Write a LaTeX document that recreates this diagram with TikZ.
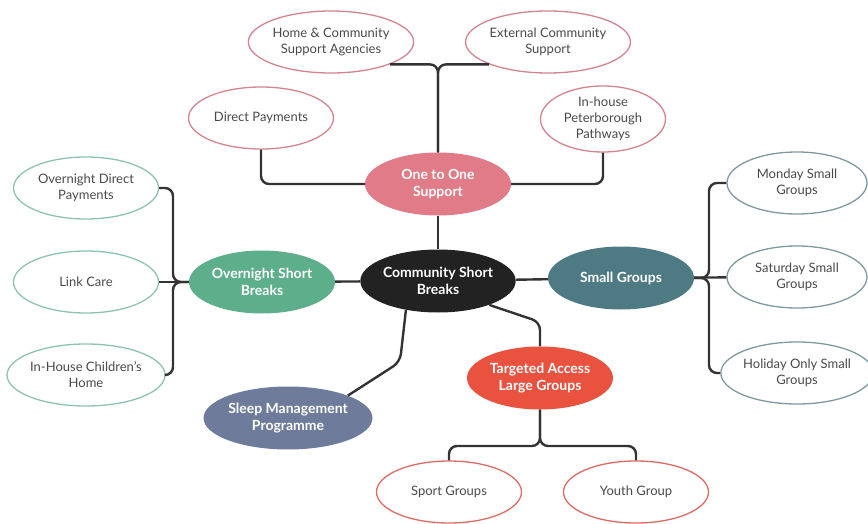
\documentclass[tikz,border=0pt]{standalone}
\usepackage{fontspec}
\setmainfont{Lato}
\usepackage{tikz}
\usetikzlibrary{shapes.geometric,positioning}

\definecolor{pinkhub}{HTML}{E07B87}
\definecolor{pinkleaf}{HTML}{D4848E}
\definecolor{greenhub}{HTML}{5DAE8B}
\definecolor{greenleaf}{HTML}{8CC3B0}
\definecolor{slatehub}{HTML}{4E7A83}
\definecolor{slateleaf}{HTML}{7E9AA0}
\definecolor{redhub}{HTML}{E9523F}
\definecolor{redleaf}{HTML}{E06A62}
\definecolor{sleephub}{HTML}{6E7B9B}
\definecolor{corehub}{HTML}{222222}
\definecolor{linegrey}{HTML}{333333}
\definecolor{leaftext}{HTML}{4A4A4A}

\tikzset{
    hub/.style={ellipse, minimum width=146pt, minimum height=63pt, inner sep=0pt,
        align=center, text=white, font=\bfseries\fontsize{14}{17}\selectfont},
    leaf/.style={ellipse, draw=#1, line width=1.3pt, fill=white, minimum width=145pt,
        minimum height=62pt, inner sep=0pt, align=center, text=leaftext,
        font=\fontsize{13}{16}\selectfont},
    conn/.style={draw=linegrey, line width=2.4pt, rounded corners=8pt},
}

\begin{document}
\begin{tikzpicture}[x=1pt,y=-1pt]
        \useasboundingbox (0,0) rectangle (868,524);

        % middle
        \node[hub,fill=corehub] (C) at (438,281) {Community Short\\Breaks};

        % one to one support
        \node[hub,fill=pinkhub] (O) at (438,184) {One to One\\Support};
        \node[leaf=pinkleaf] (O1) at (331,42) {Home \& Community\\Support Agencies};
        \node[leaf=pinkleaf] (O2) at (548,42) {External Community\\Support};
        \node[leaf=pinkleaf] (O3) at (261,118) {Direct Payments};
        \node[leaf=pinkleaf,minimum width=125pt,minimum height=66pt] (O4) at (603,119) {In-house\\Peterborough\\Pathways};

        % overnight short breaks
        \node[hub,fill=greenhub] (N) at (262,282) {Overnight Short\\Breaks};
        \node[leaf=greenleaf] (N1) at (86,188) {Overnight Direct\\Payments};
        \node[leaf=greenleaf] (N2) at (86,282) {Link Care};
        \node[leaf=greenleaf] (N3) at (86,375) {In-House Children's\\Home};

        % small groups
        \node[hub,fill=slatehub] (S) at (621,278) {Small Groups};
        \node[leaf=slateleaf,minimum width=140pt] (S1) at (797,183) {Monday Small\\Groups};
        \node[leaf=slateleaf,minimum width=140pt] (S2) at (797,277) {Saturday Small\\Groups};
        \node[leaf=slateleaf,minimum width=140pt] (S3) at (797,373) {Holiday Only Small\\Groups};

        % targeted access
        \node[hub,fill=redhub] (T) at (540,378) {Targeted Access\\Large Groups};
        \node[leaf=redleaf] (T1) at (449,492) {Sport Groups};
        \node[leaf=redleaf] (T2) at (636,492) {Youth Group};

        % sleep
        \node[hub,fill=sleephub] (P) at (288,418) {Sleep Management\\Programme};

        \coordinate (nj) at (173,282);
        \coordinate (sj) at (709,278);
        \coordinate (tj) at (540,446);
        \coordinate (tk) at (540,322);
        \coordinate (pk) at (400,362);

        \draw[conn] (O.south) -- (C.north);
        \draw[conn] (O.north) |- (O1.south east);
        \draw[conn] (O.north) |- (O2.south west);
        \draw[conn] (O3.south) |- (O.west);
        \draw[conn] (O4.south) |- (O.east);

        \draw[conn] (C) -- (N);
        \draw[conn] (N2) -- (N);
        \draw[conn] (N1.east) -| (nj) -- (N.west);
        \draw[conn] (N3.east) -| (nj) -- (N.west);

        \draw[conn] (C) -- (S);
        \draw[conn] (S) -- (S2);
        \draw[conn] (S.east) -- (sj) |- (S1.west);
        \draw[conn] (S.east) -- (sj) |- (S3.west);

        \draw[conn] (C.-25) -- (tk) -- (T.north);
        \draw[conn] (T.south) -- (tj) -| (T1.north);
        \draw[conn] (T.south) -- (tj) -| (T2.north);

        \draw[conn] (C.-138) -- (pk) -- (P.north east);
        %\draw[conn] (C) -- (P);
    \end{tikzpicture}
\end{document}
